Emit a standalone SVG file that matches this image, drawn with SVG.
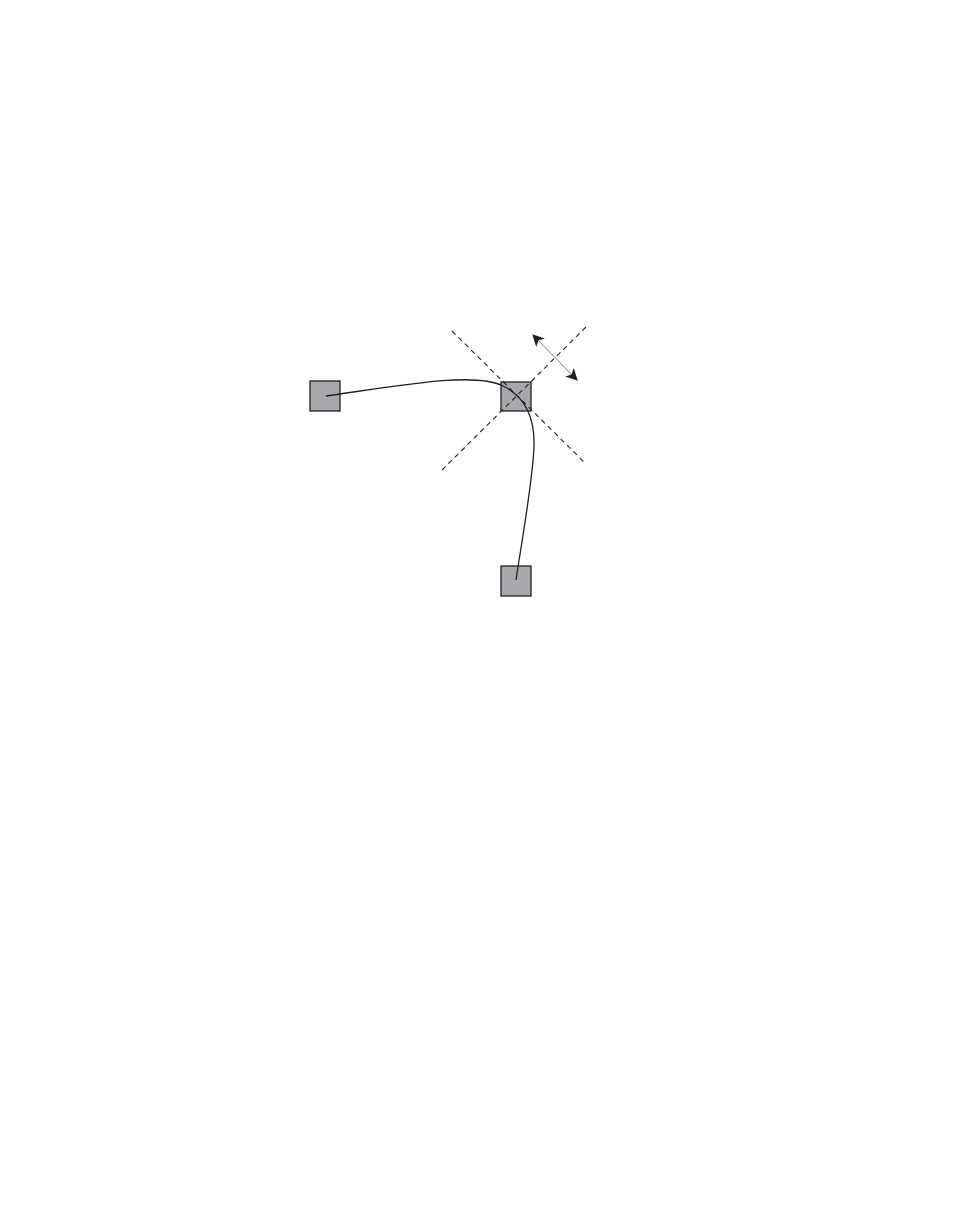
<svg xmlns="http://www.w3.org/2000/svg" width="954" height="1227" viewBox="0 0 954 1227">
<style>
.node{fill:#a7a8ab;stroke:#231f20;stroke-width:1.3}
.dash{stroke:#231f20;stroke-width:1.1;stroke-dasharray:5,4;fill:none}
.wire{stroke:#231f20;stroke-width:1.3;fill:none}
</style>
<defs>
<marker id="ah" viewBox="0 0 10 10" refX="9" refY="5" markerWidth="12" markerHeight="12" markerUnits="userSpaceOnUse" orient="auto-start-reverse">
<path d="M0,0 L10,5 L0,10 L2.5,5 Z" fill="#231f20"/>
</marker>
</defs>
<rect width="954" height="1227" fill="#fff"/>
<g id="node-left"><rect class="node" x="310" y="381" width="30" height="30"/></g>
<g id="node-center"><rect class="node" x="501" y="382" width="30" height="29"/></g>
<g id="node-bottom"><rect class="node" x="501" y="566" width="30" height="30"/></g>
<g id="guides">
<line class="dash" x1="452" y1="331" x2="585" y2="463"/>
<line class="dash" x1="586" y1="327" x2="441" y2="471"/>
</g>
<g id="connectors">
<path class="wire" d="M326,396 C410,384 475,372 503,386 C528,398 535,422 534,448 C532,485 522,540 516,580"/>
<line x1="533" y1="335" x2="577" y2="380" stroke="#6d6e71" stroke-width="0.9" marker-start="url(#ah)" marker-end="url(#ah)"/>
</g>
</svg>
